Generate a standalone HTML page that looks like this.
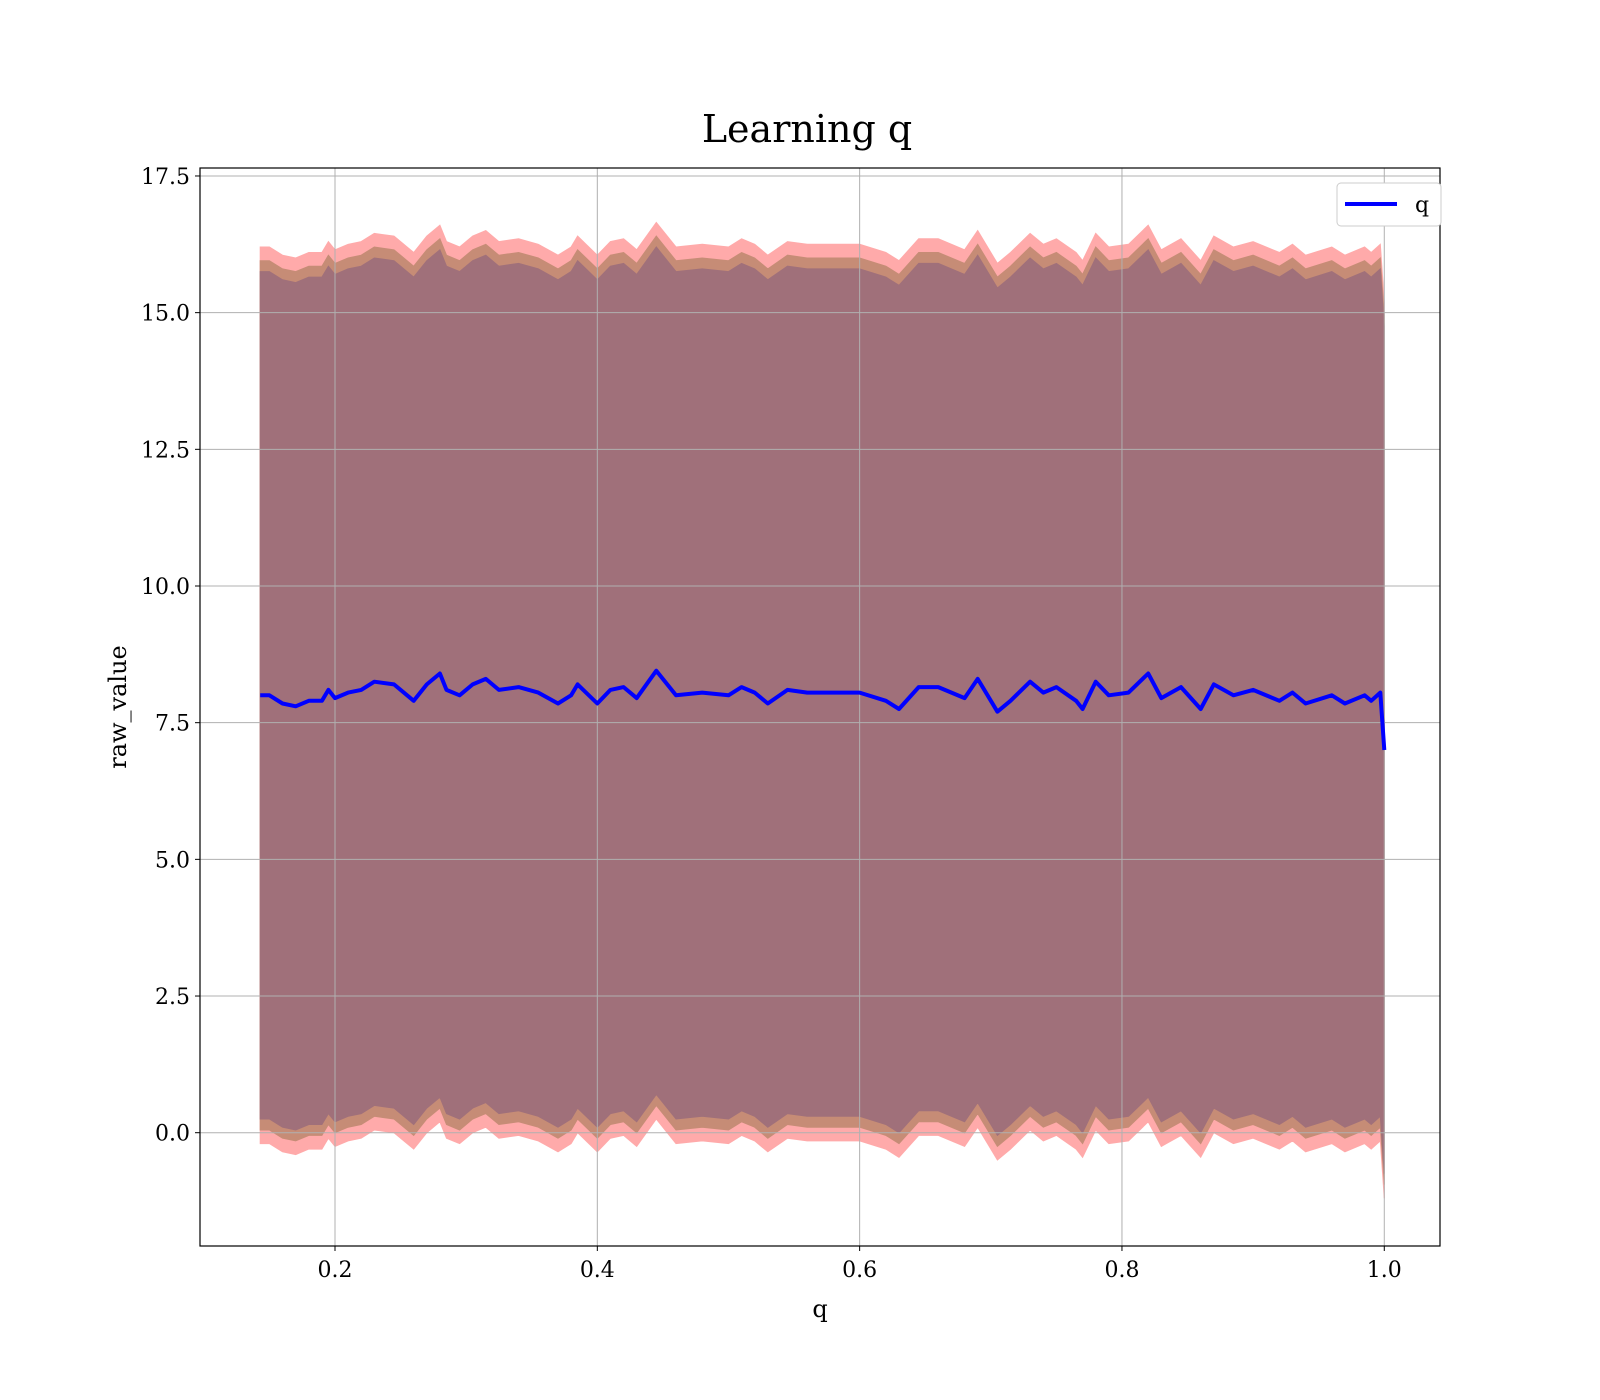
<!DOCTYPE html>
<html><head><meta charset="utf-8"><style>
body{margin:0;background:#fff;}
svg{display:block;font-family:"DejaVu Serif","Liberation Serif",serif;}
</style></head><body>
<svg id="chart" width="1600" height="1400" viewBox="0 0 1600 1400">
<rect width="1600" height="1400" fill="#fff"/>
<text x="807" y="142" font-size="38" text-anchor="middle">Learning q</text>
<g id="plot"></g>
<text x="820" y="1317" font-size="24" text-anchor="middle">q</text>
<text transform="translate(126,707) rotate(-90)" font-size="24" text-anchor="middle">raw_value</text>
</svg>
<script>
const xs=[0.143,0.15,0.16,0.17,0.18,0.19,0.195,0.2,0.21,0.22,0.23,0.245,0.26,0.27,0.28,0.285,0.295,0.305,0.315,0.325,0.34,0.355,0.37,0.38,0.385,0.4,0.41,0.42,0.43,0.445,0.46,0.48,0.5,0.51,0.52,0.53,0.545,0.56,0.58,0.6,0.62,0.63,0.645,0.66,0.68,0.69,0.705,0.715,0.73,0.74,0.75,0.765,0.77,0.78,0.79,0.805,0.82,0.83,0.845,0.86,0.87,0.885,0.9,0.92,0.93,0.94,0.96,0.97,0.985,0.99,0.997,1.0];
const means=[8.0,8.0,7.85,7.8,7.9,7.9,8.1,7.95,8.05,8.1,8.25,8.2,7.9,8.2,8.4,8.1,8.0,8.2,8.3,8.1,8.15,8.05,7.85,8.0,8.2,7.85,8.1,8.15,7.95,8.45,8.0,8.05,8.0,8.15,8.05,7.85,8.1,8.05,8.05,8.05,7.9,7.75,8.15,8.15,7.95,8.3,7.7,7.9,8.25,8.05,8.15,7.9,7.75,8.25,8.0,8.05,8.4,7.95,8.15,7.75,8.2,8.0,8.1,7.9,8.05,7.85,8.0,7.85,8.0,7.9,8.05,7.0];
const bandHalfWidths=[8.2,7.95,7.75];
const bandColors=["#ffaaaa","#c68c76","#a0707a"];
const xTicks=[0.2,0.4,0.6,0.8,1.0];
const xTickLabels=["0.2","0.4","0.6","0.8","1.0"];
const yTicks=[0,2.5,5,7.5,10,12.5,15,17.5];
const yTickLabels=["0.0","2.5","5.0","7.5","10.0","12.5","15.0","17.5"];
const L=200,R=1440,T=168,B=1246;
const X=v=>335+(v-0.2)*1311.6;
const Y=v=>1132.7-v*54.67;
const NS="http://www.w3.org/2000/svg";
const g=document.getElementById('plot');
function mk(t,a){const e=document.createElementNS(NS,t);for(const k in a)e.setAttribute(k,a[k]);return e;}
bandHalfWidths.forEach((k,i)=>{
  let d="M"+xs.map((x,j)=>X(x).toFixed(1)+","+Y(means[j]+k).toFixed(1)).join("L");
  for(let j=xs.length-1;j>=0;j--)d+="L"+X(xs[j]).toFixed(1)+","+Y(means[j]-k).toFixed(1);
  const p=mk('path',{d:d+"Z",fill:bandColors[i],stroke:bandColors[i],"stroke-width":1});
  
  
  g.appendChild(p);
});
xTicks.forEach((v,i)=>{
  const l=mk('line',{x1:X(v),x2:X(v),y1:T,y2:B,stroke:"#b0b0b0","stroke-width":1});
  
  
  g.appendChild(l);
  const tk=mk('line',{x1:X(v),x2:X(v),y1:B,y2:B+5,stroke:"#000","stroke-width":1});
  
  
  g.appendChild(tk);
  const t=mk('text',{x:X(v),y:B+31,"font-size":22,"text-anchor":"middle"});
  t.textContent=xTickLabels[i];
  
  
  g.appendChild(t);
});
yTicks.forEach((v,i)=>{
  const l=mk('line',{x1:L,x2:R,y1:Y(v),y2:Y(v),stroke:"#b0b0b0","stroke-width":1});
  
  
  g.appendChild(l);
  const tk=mk('line',{x1:L-5,x2:L,y1:Y(v),y2:Y(v),stroke:"#000","stroke-width":1});
  
  
  g.appendChild(tk);
  const t=mk('text',{x:L-10,y:Y(v)+8,"font-size":22,"text-anchor":"end"});
  t.textContent=yTickLabels[i];
  
  
  g.appendChild(t);
});
const line=mk('polyline',{points:xs.map((x,j)=>X(x).toFixed(1)+","+Y(means[j]).toFixed(1)).join(" "),fill:"none",stroke:"#0000ff","stroke-width":4,"stroke-linejoin":"round"});


g.appendChild(line);
const frame=mk('rect',{x:L,y:T,width:R-L,height:B-T,fill:"none",stroke:"#000","stroke-width":1.2});


g.appendChild(frame);
const lg=mk('g',{});


const lr=mk('rect',{x:1337,y:183,width:104,height:43,rx:4,fill:"#fff",stroke:"#ccc","stroke-width":1});


lg.appendChild(lr);
const ll=mk('line',{x1:1345,x2:1397,y1:204,y2:204,stroke:"#0000ff","stroke-width":4});


lg.appendChild(ll);
const lt=mk('text',{x:1415,y:212,"font-size":22});
lt.textContent="q";


lg.appendChild(lt);
g.appendChild(lg);
</script>
</body></html>
